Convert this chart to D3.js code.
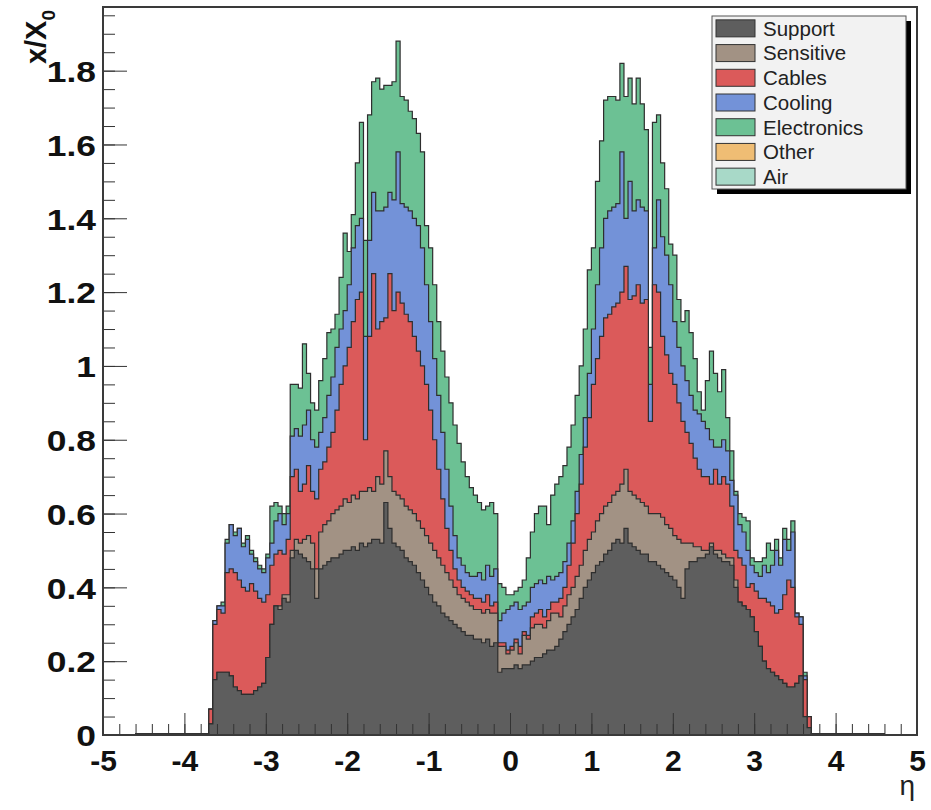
<!DOCTYPE html>
<html>
<head>
<meta charset="utf-8">
<script src="https://cdn.jsdelivr.net/npm/d3@7/dist/d3.min.js"></script>
<style>
  body { margin: 0; background: #fff; }
  text { font-family: "Liberation Sans", Arial, Helvetica, sans-serif; }
</style>
</head>
<body>
<div id="chart"></div>
<script>
// histogram binning (eta)
var binLow = -3.7;
var binWidth = 0.05;

// x/X0 per material category, one value per bin, from eta -3.7 to 3.65
var support = [
  .03,.15,.17,.17,.17,.16,.13,.12,.11,.11, .11,.12,.13,.14,.21,.30,.35,.34,.37,.36,
  .48,.50,.49,.48,.47,.45,.37,.45,.46,.47, .48,.48,.49,.50,.50,.51,.50,.52,.51,.52,
  .53,.53,.52,.63,.56,.52,.51,.50,.48,.47, .46,.44,.42,.40,.38,.36,.35,.33,.32,.31,
  .30,.29,.28,.27,.27,.26,.26,.25,.26,.24, .25,.17,.18,.18,
  .18,.19,.18,.19,.19,.20,
  .21,.21,.22,.23,.23,.24,.26,.28,.30,.32, .34,.37,.40,.42,.44,.46,.47,.49,.50,.52,
  .53,.52,.56,.52,.51,.50,.49,.49,.47,.47, .46,.45,.44,.43,.42,.40,.37,.45,.47,.47,
  .48,.48,.49,.51,.49,.48,.47,.47,.46,.40, .36,.35,.34,.32,.28,.24,.20,.18,.17,.16,
  .15,.14,.13,.13,.14,.16,.05,.02
];
var sensitive = [
  0,0,0,0,0,0,0,0,0,0, 0,0,0,0,0,0,0,.01,.01,.02,
  .02,.03,.03,.05,.07,.07,.08,.10,.11,.11, .12,.13,.13,.14,.13,.14,.14,.14,.15,.15,
  .13,.17,.16,.14,.14,.14,.14,.14,.14,.14, .14,.14,.14,.14,.14,.14,.13,.13,.12,.11,
  .10,.09,.09,.09,.08,.08,.08,.08,.08,.09, .08,.07,.06,.04,
  .05,.06,.04,.08,.07,.09,
  .09,.09,.07,.08,.10,.09,.06,.07,.08,.08, .09,.09,.10,.11,.11,.12,.13,.13,.13,.13,
  .13,.16,.16,.14,.14,.14,.14,.13,.13,.13, .14,.14,.13,.13,.12,.13,.15,.07,.05,.04,
  .03,.02,.01,.01,.01,.02,.02,.01,.02,.02, 0,0,0,0,0,0,0,0,0,0,
  0,0,0,0,0,0,0,0
];
var cables = [
  .04,.15,.17,.16,.27,.29,.31,.30,.29,.28, .30,.27,.24,.22,.17,.16,.14,.15,.11,.15,
  .20,.19,.14,.15,.19,.14,.19,.17,.17,.20, .22,.27,.33,.36,.42,.47,.54,.54,.14,.41,
  .59,.40,.44,.36,.55,.49,.55,.53,.52,.51, .48,.46,.44,.41,.36,.30,.24,.18,.12,.08,
  .05,.04,.03,.03,.03,.03,.03,.03,.04,.02, .03,.01,.01,.01,
  .01,.01,.02,.01,.01,.03,
  .03,.04,.03,.03,.03,.03,.05,.05,.08,.12, .17,.22,.28,.33,.40,.44,.48,.51,.51,.51,
  .51,.52,.55,.52,.54,.58,.54,.56,.25,.62, .60,.49,.46,.42,.41,.37,.33,.30,.27,.24,
  .21,.20,.20,.16,.22,.18,.21,.20,.14,.08, .12,.11,.06,.09,.11,.13,.17,.18,.18,.17,
  .19,.24,.29,.27,.18,.14,.10,.03
];
var cooling = [
  0,.01,.01,.02,.08,.12,.10,.14,.11,.14, .08,.08,.08,.08,.10,.06,.09,.10,.08,.07,
  .11,.11,.15,.16,.15,.14,.14,.10,.12,.14, .15,.17,.15,.15,.17,.20,.20,.20,.28,.26,
  .22,.32,.30,.30,.22,.30,.38,.27,.29,.30, .32,.34,.32,.27,.24,.22,.20,.18,.16,.12,
  .09,.06,.06,.05,.05,.06,.07,.06,.08,.08, .09,.06,.08,.11,
  .11,.10,.10,.07,.09,.08,
  .08,.08,.09,.09,.06,.07,.07,.07,.06,.06, .06,.08,.08,.12,.15,.20,.24,.27,.28,.27,
  .27,.38,.13,.32,.23,.23,.26,.24,.10,.10, .25,.27,.27,.24,.17,.15,.15,.14,.13,.13,
  .15,.15,.13,.12,.06,.10,.10,.09,.07,.15, .09,.09,.10,.05,.05,.06,.09,.08,.11,.17,
  .12,.15,.08,.15,.01,.02,.01,0
];
var electronics = [
  0,0,0,.01,.01,0,.01,0,.01,.01, .01,.01,.01,.01,.01,.10,.05,.02,.03,.02,
  .14,.12,.13,.22,.10,.10,.10,.14,.16,.17, .13,.09,.14,.21,.09,.09,.17,.26,.26,.34,
  .30,.36,.33,.33,.29,.32,.30,.29,.29,.27, .27,.25,.26,.16,.20,.20,.20,.22,.25,.28,
  .30,.31,.28,.26,.24,.22,.19,.19,.16,.20, .15,.10,.07,.04,
  .03,.03,.06,.07,.12,.15,
  .19,.20,.21,.14,.23,.25,.26,.26,.26,.26, .26,.24,.24,.28,.22,.28,.29,.32,.31,.30,
  .28,.24,.33,.28,.29,.33,.28,.22,.10,.34, .23,.20,.18,.11,.18,.13,.12,.19,.17,.14,
  .06,.03,.13,.24,.20,.15,.19,.09,.08,.01, .03,.04,.08,.02,.03,.04,.02,.08,.04,.03,
  .02,.03,.03,.03,0,0,.01,0
];
// air only shows outside the tracker acceptance
var airLowStart = -4.6;
var airLow = [.004,.004,.004,.004,.004,.004,.004,.004,.004,.004,.004,.004,.004,.004,.004,.004,.004,.004];
var airHighStart = 3.7;
var airHigh = [.004,.004,.004,.004,.004,.004,.004,.004,.004,.004,.004,.004,.004,.004,.004,.004,.004,.004];

var legendNames = ["Support", "Sensitive", "Cables", "Cooling", "Electronics", "Other", "Air"];
var legendColors = ["#5e5e5e", "#a29284", "#db5a5a", "#7392d8", "#6cc194", "#efbd74", "#a8d9c8"];
var xTicks = [-5, -4, -3, -2, -1, 0, 1, 2, 3, 4, 5];
var yTicks = [0, 0.2, 0.4, 0.6, 0.8, 1, 1.2, 1.4, 1.6, 1.8];

// layout
var svgWidth = 931;
var svgHeight = 810;
var frame = { left: 103, right: 917, top: 7, bottom: 735 };

var svg = d3.select("#chart")
  .append("svg")
  .attr("width", svgWidth)
  .attr("height", svgHeight);

svg.append("rect").attr("width", svgWidth).attr("height", svgHeight).attr("fill", "#fff");

var x = d3.scaleLinear().domain([-5, 5]).range([frame.left, frame.right]);
var y = d3.scaleLinear().domain([0, 1.9725]).range([frame.bottom, frame.top]);

// build table and stack it
var keys = legendNames.slice(0, 5);
var seriesData = [support, sensitive, cables, cooling, electronics];
var rows = support.map(function(d, i) {
  var row = { eta: binLow + i * binWidth };
  keys.forEach(function(k, j) { row[k] = seriesData[j][i]; });
  return row;
});
var stacked = d3.stack().keys(keys)(rows);

function stepPoints(values, start) {
  var pts = [[start, 0]];
  values.forEach(function(v, i) {
    var x0 = start + i * binWidth;
    pts.push([x0, v], [x0 + binWidth, v]);
  });
  pts.push([start + values.length * binWidth, 0]);
  return pts;
}

var area = d3.area()
  .x(function(d) { return x(d[0]); })
  .y0(y(0))
  .y1(function(d) { return y(d[1]); });
var line = d3.line()
  .x(function(d) { return x(d[0]); })
  .y(function(d) { return y(d[1]); });

svg.append("clipPath").attr("id", "frameClip")
  .append("rect")
  .attr("x", frame.left).attr("y", frame.top)
  .attr("width", frame.right - frame.left).attr("height", frame.bottom - frame.top);

var plot = svg.append("g").attr("clip-path", "url(#frameClip)");

// draw from top of stack down, each filled from zero like THStack
for (var k = stacked.length - 1; k >= 0; k--) {
  var tops = stacked[k].map(function(d) { return d[1]; });
  var pts = stepPoints(tops, binLow);
  plot.append("path")
    .attr("d", area(pts))
    .attr("fill", legendColors[k]);
  plot.append("path")
    .attr("d", line(pts))
    .attr("fill", "none")
    .attr("stroke", "#2e2e2e")
    .attr("stroke-width", 1.2)
    .attr("stroke-linejoin", "miter");
}

[[airLow, airLowStart], [airHigh, airHighStart]].forEach(function(a) {
  var pts = stepPoints(a[0], a[1]);
  plot.append("path").attr("d", area(pts)).attr("fill", legendColors[6]);
  plot.append("path").attr("d", line(pts)).attr("fill", "none")
    .attr("stroke", "#333").attr("stroke-width", 1.1);
});

// axes, ticks pointing into the frame
var minorY = d3.range(0, 1.96, 0.05);
var minorX = d3.range(-5, 5.01, 0.2);
var plainNumber = function(d) { return String(+d.toFixed(2)); };

svg.append("g")
  .attr("transform", "translate(" + frame.left + ",0)")
  .call(d3.axisLeft(y).tickValues(minorY).tickSize(-12).tickSizeOuter(0).tickFormat(""))
  .call(function(g) { g.select(".domain").remove(); });

svg.append("g")
  .attr("transform", "translate(0," + frame.bottom + ")")
  .call(d3.axisBottom(x).tickValues(minorX).tickSize(-11).tickSizeOuter(0).tickFormat(""))
  .call(function(g) { g.select(".domain").remove(); });

var yAxis = svg.append("g")
  .attr("transform", "translate(" + frame.left + ",0)")
  .call(d3.axisLeft(y).tickValues(yTicks).tickSize(-24).tickSizeOuter(0).tickPadding(7)
    .tickFormat(plainNumber));

var xAxis = svg.append("g")
  .attr("transform", "translate(0," + frame.bottom + ")")
  .call(d3.axisBottom(x).tickValues(xTicks).tickSize(-22).tickSizeOuter(0).tickPadding(15)
    .tickFormat(plainNumber));

svg.selectAll(".tick line").attr("stroke", "#333").attr("stroke-width", 1);
svg.selectAll(".tick text")
  .attr("fill", "#111")
  .style("font-size", "30px")
  .style("font-weight", "bold");
// y labels are drawn a little wider than the x labels in the original
yAxis.selectAll(".tick text")
  .attr("dy", "0.36em")
  .attr("x", null)
  .attr("transform", "translate(-7,0) scale(1.18,1)");

// frame
svg.append("rect")
  .attr("x", frame.left).attr("y", frame.top)
  .attr("width", frame.right - frame.left).attr("height", frame.bottom - frame.top)
  .attr("fill", "none")
  .attr("stroke", "#3a3a3a")
  .attr("stroke-width", 2);

// axis titles
var yTitle = svg.append("text")
  .attr("transform", "translate(46,10) rotate(-90)")
  .attr("text-anchor", "end")
  .attr("fill", "#111")
  .style("font-size", "29px")
  .style("font-weight", "bold");
yTitle.append("tspan").text("x/X");
yTitle.append("tspan").attr("dy", 9).style("font-size", "19px").text("0");

svg.append("text")
  .attr("x", 915).attr("y", 795)
  .attr("text-anchor", "end")
  .attr("fill", "#222")
  .style("font-size", "28px")
  .text("η");

// legend with drop shadow
var legend = { x: 712, y: 16, w: 194, h: 173 };
svg.append("rect")
  .attr("x", legend.x + 5).attr("y", legend.y + 5)
  .attr("width", legend.w).attr("height", legend.h)
  .attr("fill", "#000");
svg.append("rect")
  .attr("x", legend.x).attr("y", legend.y)
  .attr("width", legend.w).attr("height", legend.h)
  .attr("fill", "#f2f2f2")
  .attr("stroke", "#555")
  .attr("stroke-width", 1);

var rowH = legend.h / legendNames.length;
var entries = svg.append("g").selectAll("g")
  .data(legendNames)
  .enter()
  .append("g")
  .attr("transform", function(d, i) {
    return "translate(" + legend.x + "," + (legend.y + rowH * (i + 0.5)) + ")";
  });

entries.append("rect")
  .attr("x", 4).attr("y", -8.5)
  .attr("width", 39).attr("height", 17)
  .attr("fill", function(d, i) { return legendColors[i]; })
  .attr("stroke", "#333")
  .attr("stroke-width", 1);

entries.append("text")
  .attr("x", 51).attr("y", 0)
  .attr("dy", "0.36em")
  .attr("fill", "#222")
  .style("font-size", "20.5px")
  .text(function(d) { return d; });
</script>
</body>
</html>
